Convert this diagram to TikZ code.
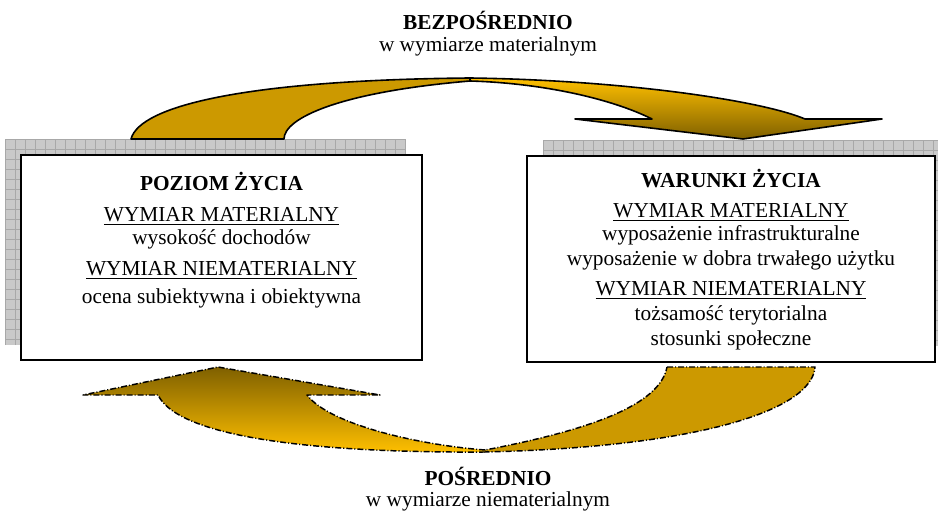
\documentclass[tikz,border=0pt]{standalone}
\usepackage{fontspec}
\setmainfont{Liberation Serif}
\usepackage{xcolor}
\definecolor{gold}{HTML}{CC9900}
\definecolor{amber}{HTML}{FFC000}
\definecolor{bronze}{HTML}{7F6000}
\definecolor{shadowgray}{HTML}{C9C9C9}
\definecolor{gridgray}{HTML}{A8A8A8}
\tikzstyle{box} = [rectangle, draw=black, line width=1.5pt, fill=white]
\tikzstyle{txt} = [anchor=base, inner sep=0pt, font=\fontsize{16}{19}\selectfont]
\tikzstyle{solidband} = [draw=black, line width=1.2pt, line join=round]
\tikzstyle{dashband} = [draw=black, line width=1.1pt, line join=round, dash pattern=on 4.5pt off 1.5pt on 0.8pt off 1.5pt]

\begin{document}
\begin{tikzpicture}[x=0.75pt, y=-0.75pt]
    \useasboundingbox (0,0) rectangle (938,513);

    % hatched shadows behind the boxes
    \foreach \sx/\sy/\sw in {5/139/401, 543/140/408} {
        \begin{scope}[shift={(\sx,\sy)}]
            \fill[shadowgray] (0,0) rectangle (\sw,206);
            \clip (0,0) rectangle (\sw,206);
            \draw[gridgray, line width=0.5pt, step=7.5pt] (0,206) grid (\sw,0);
        \end{scope}
    }

    \node (poziom) [box, minimum width=300.75pt, minimum height=153.75pt] at (221.5,257.5) {};
    \node (warunki) [box, minimum width=306pt, minimum height=154.5pt] at (731,259) {};

    % text of the boxes
    \foreach \y/\t in {191/{\textbf{POZIOM ŻYCIA}}, 222/{\underline{WYMIAR MATERIALNY}}, 244/{wysokość dochodów},
                       276/{\underline{WYMIAR NIEMATERIALNY}}, 303/{ocena subiektywna i obiektywna}} {
        \node (pz\y) [txt] at (221.5,\y) {\t};
    }
    \foreach \y/\t in {188/{\textbf{WARUNKI ŻYCIA}}, 218/{\underline{WYMIAR MATERIALNY}}, 241/{wyposażenie infrastrukturalne},
                       266/{wyposażenie w dobra trwałego użytku}, 296/{\underline{WYMIAR NIEMATERIALNY}},
                       320/{tożsamość terytorialna}, 345/{stosunki społeczne}} {
        \node (wz\y) [txt] at (731,\y) {\t};
    }

    % upper curved arrow
    \draw [solidband, fill=gold] (131,139) .. controls (140,105) and (250,80) .. (470,78) -- (470,81)
        .. controls (340,92) and (284,118) .. (284,139) -- cycle;
    \draw [solidband, top color=amber, bottom color=bronze] (470,78) .. controls (620,80) and (760,100) .. (805,119)
        -- (882,119) -- (743,139) -- (575,119) -- (652,119) .. controls (610,98) and (540,83) .. (470,81) -- cycle;

    % lower curved arrow
    \draw [dashband, fill=gold] (667,367) -- (815,367) .. controls (812,410) and (700,447) .. (485,452) -- (485,450)
        .. controls (590,430) and (660,405) .. (667,367) -- cycle;
    \draw [dashband, top color=bronze, bottom color=amber] (485,452) .. controls (330,453) and (180,440) .. (158,395)
        -- (83,395) -- (218,367) -- (380,395) -- (307,395) .. controls (330,425) and (420,445) .. (485,450) -- cycle;

    \node (bezp) [txt] at (488,30) {\textbf{BEZPOŚREDNIO}};
    \node (bezpsub) [txt] at (488,52) {w wymiarze materialnym};
    \node (posr) [txt] at (488,485) {\textbf{POŚREDNIO}};
    \node (posrsub) [txt] at (488,506) {w wymiarze niematerialnym};
\end{tikzpicture}
\end{document}
